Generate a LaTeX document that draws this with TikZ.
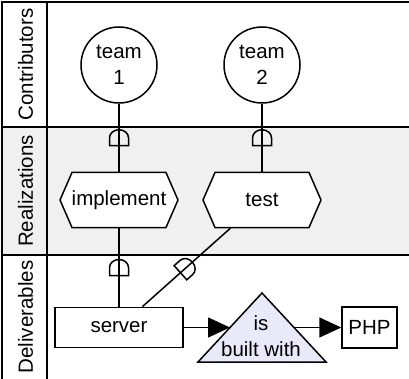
\documentclass[tikz,border=0pt]{standalone}
\usepackage{fontspec}
\setmainfont{Liberation Sans}
\usetikzlibrary{arrows.meta,decorations.markings}
\definecolor{lanegray}{RGB}{240,240,240}
\definecolor{trifill}{RGB}{232,234,250}
\begin{document}
\begin{tikzpicture}[x=1pt,y=-1pt, line width=1.5pt,
  every node/.style={font=\fontsize{20.5}{26.5}\selectfont, inner sep=0pt},
  team/.style={circle, draw, fill=white, minimum size=76pt, align=center},
  hexnode/.style={rectangle, minimum width=118pt, minimum height=55pt},
  box/.style={rectangle, draw, fill=white},
  lanelabel/.style={rotate=90},
  realize/.style={decoration={markings, mark=at position 0.5 with {\draw[line width=1.5pt] (8pt,9.5pt) -- (0pt,9.5pt) arc[start angle=90,end angle=270,x radius=8pt,y radius=9.5pt] -- (8pt,-9.5pt) -- cycle;}}, postaction={decorate}},
  arr/.style={-{Triangle[length=22pt,width=20pt]}},
  hexa/.pic={\draw[fill=white] (-59,0) -- (-47,-27.5) -- (47,-27.5) -- (59,0) -- (47,27.5) -- (-47,27.5) -- cycle;}
]
\useasboundingbox (0,0) rectangle (409,379);
% lanes
\fill[lanegray] (2,127) rectangle (409,255);
\draw (2,379) -- (2,2) -- (409,2);
\draw (47,2) -- (47,379);
\draw (2,127) -- (409,127);
\draw (2,255) -- (409,255);
\node[lanelabel] (lc) at (25.5,64.5) {Contributors};
\node[lanelabel] (lr) at (25.5,191) {Realizations};
\node[lanelabel] (ld) at (25.5,317) {Deliverables};
% shapes
\pic at (119,200) {hexa};
\pic at (262,200) {hexa};
\node[team] (t1) at (119,65) {team\\1};
\node[team] (t2) at (262,65) {team\\2};
\node[hexnode] (impl) at (119,200) {implement};
\node[hexnode] (test) at (262,200) {test};
\node[box, minimum width=128pt, minimum height=40pt] (server) at (119,327.5) {server};
\node[box, minimum width=55pt, minimum height=41pt] (php) at (369.5,327.5) {PHP};
\draw[fill=trifill] (262,293) -- (326,362) -- (198,362) -- cycle;
\node[align=center] (built) at (261,336) {is\\built with};
\coordinate (triL) at (230,327.5);
\coordinate (triR) at (294,327.5);
% connectors
\draw[realize] (t1) -- (impl);
\draw[realize] (t2) -- (test);
\draw[realize] (impl) -- (server);
\draw[realize] (test) -- (server);
\draw[arr] (server) -- (triL);
\draw[arr] (triR) -- (php);
\end{tikzpicture}
\end{document}
